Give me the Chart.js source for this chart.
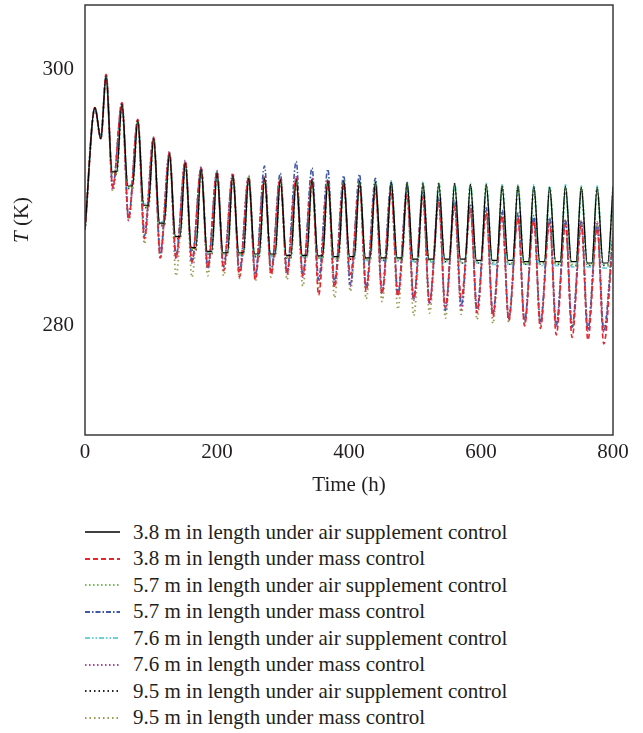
<!DOCTYPE html>
<html lang="en">
<head>
<meta charset="UTF-8">
<title>T vs time</title>
<script src="https://cdn.jsdelivr.net/npm/chart.js@4.4.1/dist/chart.umd.min.js"></script>
<style>
  body { margin: 0; background: #fff; }
  #wrap { position: relative; width: 643px; height: 733px; font-family: "Liberation Serif", serif; }
  #myChart { position: absolute; left: 0; top: 0; }
  #legend { position: absolute; left: 85px; top: 519px; }
  .row { height: 26.5px; display: flex; align-items: center; font-size: 21px; color: #231f20; white-space: nowrap; }
  .row svg { width: 35px; height: 6px; margin-right: 13px; flex: none; }
</style>
</head>
<body>
<div id="wrap">
  <canvas id="myChart" width="643" height="500"></canvas>
  <div id="legend"></div>
</div>

<script>
// time axis: a shared start, then one peak per day
const xTicks = [0, 200, 400, 600, 800];
const yTicks = [280, 300];
const startHours = [0, 15, 24];
const startTemps = [287.5, 297.0, 294.6];
const firstPeakHour = 32;
const dayHours = 24;
const airFallHours = 9;   // peak -> start of night plateau
const airRiseHours = 16;  // end of night plateau
const massFallHours = 10; // peak -> night minimum

// 3.8 m, air supplement control
const peaks38air = [299.5, 297.3, 296.0, 294.6, 293.4, 292.7, 292.2, 291.9, 291.7, 291.5, 291.5, 291.4, 291.4, 291.4, 291.3, 291.3, 291.3, 291.2, 291.2, 291.2, 291.1, 291.1, 291.1, 291.0, 291.0, 290.9, 290.9, 290.9, 290.8, 290.9, 290.8, 290.8, 290.8];
const troughs38air = [292.0, 290.9, 289.4, 288.0, 286.95, 286.1, 285.8, 285.7, 285.7, 285.6, 285.6, 285.5, 285.5, 285.45, 285.4, 285.4, 285.3, 285.3, 285.3, 285.2, 285.2, 285.2, 285.2, 285.1, 285.1, 285.1, 285.0, 285.0, 285.0, 285.0, 284.9, 284.9];
// 3.8 m, mass control
const peaks38mass = [299.6, 297.4, 296.1, 294.7, 293.5, 292.8, 292.3, 292.0, 291.8, 291.6, 291.6, 291.5, 291.5, 291.4, 291.3, 291.1, 290.9, 290.7, 290.5, 290.2, 290.0, 289.6, 289.3, 289.0, 288.8, 288.6, 288.4, 288.2, 288.0, 287.9, 287.8, 287.6, 286.8];
const troughs38mass = [290.8, 288.3, 286.8, 285.3, 285.3, 285.0, 284.5, 284.3, 283.8, 283.6, 284.0, 284.0, 283.9, 282.4, 283.0, 284.0, 282.7, 282.5, 282.3, 282.1, 281.8, 281.4, 282.2, 281.0, 280.7, 280.4, 280.0, 279.8, 279.3, 279.1, 278.9, 278.6];
// 5.7 m, air supplement control
const peaks57air = [299.4, 297.2, 296.0, 294.5, 293.4, 292.7, 292.2, 291.9, 291.7, 291.6, 291.5, 291.5, 291.4, 291.3, 291.3, 291.3, 291.2, 291.2, 291.2, 291.1, 291.1, 291.1, 291.0, 291.0, 291.0, 290.9, 290.9, 290.8, 290.8, 290.8, 290.8, 290.7, 290.7];
const troughs57air = [291.9, 290.8, 289.3, 287.9, 286.9, 286.0, 285.7, 285.6, 285.6, 285.5, 285.5, 285.4, 285.4, 285.4, 285.3, 285.3, 285.2, 285.2, 285.2, 285.1, 285.1, 285.1, 285.0, 285.0, 285.0, 284.9, 284.9, 284.9, 284.9, 284.8, 284.8, 284.8];
// 5.7 m, mass control
const peaks57mass = [299.5, 297.3, 296.0, 294.6, 293.4, 292.8, 292.3, 292.0, 291.8, 291.6, 292.45, 291.9, 292.8, 292.3, 292.2, 291.7, 291.8, 291.5, 291.2, 290.8, 290.4, 290.0, 289.8, 289.5, 289.2, 289.0, 288.8, 288.6, 288.4, 288.2, 288.1, 287.9, 287.0];
const troughs57mass = [290.9, 288.5, 287.0, 285.6, 285.5, 285.0, 284.5, 284.6, 284.2, 284.0, 284.3, 284.2, 284.0, 283.6, 283.4, 283.2, 282.9, 282.6, 282.4, 282.1, 281.8, 281.2, 281.6, 281.4, 281.0, 280.6, 280.4, 280.3, 280.1, 279.9, 279.7, 279.6];
// 7.6 m, air supplement control
const peaks76air = [299.6, 297.4, 296.1, 294.7, 293.5, 292.8, 292.3, 292.0, 291.8, 291.6, 291.6, 291.5, 291.5, 291.4, 291.4, 291.4, 291.3, 291.3, 291.3, 291.2, 291.2, 291.2, 291.2, 291.1, 291.1, 291.0, 291.0, 291.0, 290.9, 291.0, 290.9, 290.9, 290.9];
const troughs76air = [292.1, 291.0, 289.5, 288.1, 287.0, 286.1, 285.7, 285.6, 285.5, 285.5, 285.4, 285.4, 285.3, 285.3, 285.2, 285.2, 285.1, 285.1, 285.1, 285.0, 285.0, 285.0, 284.9, 284.9, 284.8, 284.8, 284.8, 284.7, 284.7, 284.6, 284.6, 284.5];
// 7.6 m, mass control
const peaks76mass = [299.6, 297.4, 296.1, 294.7, 293.6, 292.9, 292.4, 292.1, 291.9, 291.7, 291.7, 291.6, 291.6, 291.5, 291.4, 291.2, 291.0, 290.8, 290.6, 290.3, 290.0, 289.6, 289.3, 289.1, 288.9, 288.7, 288.5, 288.4, 288.3, 288.2, 288.2, 288.1, 287.2];
const troughs76mass = [290.6, 288.2, 287.5, 285.8, 285.2, 284.9, 284.7, 284.8, 284.3, 284.0, 284.2, 284.1, 283.8, 283.5, 283.3, 283.1, 283.0, 282.7, 282.5, 282.0, 281.7, 281.5, 281.3, 281.1, 280.9, 280.6, 280.4, 280.2, 280.0, 279.8, 279.6, 279.5];
// 9.5 m, air supplement control
const peaks95air = [299.5, 297.3, 296.0, 294.6, 293.4, 292.7, 292.2, 291.9, 291.6, 291.5, 291.4, 291.4, 291.3, 291.3, 291.3, 291.2, 291.2, 291.2, 291.1, 291.1, 291.1, 291.0, 291.0, 291.0, 290.9, 290.9, 290.9, 290.8, 290.8, 290.8, 290.7, 290.7, 290.7];
const troughs95air = [291.8, 290.7, 289.2, 287.8, 286.8, 285.9, 285.6, 285.5, 285.5, 285.4, 285.4, 285.3, 285.3, 285.3, 285.2, 285.2, 285.1, 285.1, 285.1, 285.0, 285.0, 285.0, 284.9, 284.9, 284.9, 284.8, 284.8, 284.8, 284.8, 284.7, 284.7, 284.7];
// 9.5 m, mass control
const peaks95mass = [299.4, 297.2, 295.9, 294.5, 293.3, 292.6, 292.1, 291.8, 291.6, 291.4, 291.4, 291.3, 291.3, 291.2, 291.1, 291.0, 290.8, 290.6, 290.4, 290.2, 290.0, 289.7, 289.5, 289.2, 289.0, 288.8, 288.6, 288.5, 288.4, 288.3, 288.2, 288.1, 287.4];
const troughs95mass = [290.5, 288.2, 286.4, 285.2, 283.9, 283.8, 283.9, 283.9, 283.7, 283.5, 283.8, 283.6, 283.1, 283.0, 282.2, 282.7, 282.1, 281.9, 281.3, 280.8, 281.0, 280.6, 280.9, 280.5, 280.2, 280.3, 280.1, 280.0, 279.9, 279.9, 279.8, 279.7];

// air control: flat night plateau, mass control: single night minimum
function buildPoints(peaks, troughs, isAir) {
  const pts = startHours.map((h, i) => ({ x: h, y: startTemps[i] }));
  peaks.forEach((p, k) => {
    const t = firstPeakHour + k * dayHours;
    pts.push({ x: t, y: p });
    if (k < troughs.length) {
      if (isAir) {
        pts.push({ x: t + airFallHours, y: troughs[k] });
        pts.push({ x: t + airRiseHours, y: troughs[k] });
      } else {
        pts.push({ x: t + massFallHours, y: troughs[k] });
      }
    }
  });
  return pts;
}

const series = [
  { label: '3.8 m in length under air supplement control', peaks: peaks38air, troughs: troughs38air, air: true,  color: '#000000', dash: [],               width: 1.2 },
  { label: '3.8 m in length under mass control',           peaks: peaks38mass, troughs: troughs38mass, air: false, color: '#e8262d', dash: [5, 3],           width: 1.6 },
  { label: '5.7 m in length under air supplement control', peaks: peaks57air, troughs: troughs57air, air: true,  color: '#6cbf3f', dash: [1.5, 2.5],       width: 1.8 },
  { label: '5.7 m in length under mass control',           peaks: peaks57mass, troughs: troughs57mass, air: false, color: '#4259a8', dash: [5, 2, 1.5, 2],   width: 1.6 },
  { label: '7.6 m in length under air supplement control', peaks: peaks76air, troughs: troughs76air, air: true,  color: '#6fd0d6', dash: [5, 2, 1.5, 2, 1.5, 2], width: 1.8 },
  { label: '7.6 m in length under mass control',           peaks: peaks76mass, troughs: troughs76mass, air: false, color: '#b8409a', dash: [1.5, 2.5],       width: 1.8 },
  { label: '9.5 m in length under air supplement control', peaks: peaks95air, troughs: troughs95air, air: true,  color: '#222222', dash: [1.5, 3],         width: 1.6 },
  { label: '9.5 m in length under mass control',           peaks: peaks95mass, troughs: troughs95mass, air: false, color: '#9a9a55', dash: [1.5, 3],         width: 1.8 }
];

const textColor = '#231f20';
const font = { family: '"Liberation Serif", serif', size: 21 };

// frame round the plot + y title with italic T
const framePlugin = {
  id: 'frame',
  afterDraw(chart) {
    const { ctx, chartArea: a } = chart;
    ctx.save();
    ctx.strokeStyle = '#3a3a3a';
    ctx.lineWidth = 1.5;
    ctx.strokeRect(a.left, a.top, a.right - a.left, a.bottom - a.top);

    ctx.translate(22, 220);
    ctx.rotate(-Math.PI / 2);
    ctx.fillStyle = textColor;
    ctx.textBaseline = 'middle';
    const italic = 'italic 21px "Liberation Serif", serif';
    const normal = '21px "Liberation Serif", serif';
    ctx.font = italic;
    const w1 = ctx.measureText('T').width;
    ctx.font = normal;
    const w2 = ctx.measureText(' (K)').width;
    const x0 = -(w1 + w2) / 2;
    ctx.font = italic;
    ctx.fillText('T', x0, 0);
    ctx.font = normal;
    ctx.fillText(' (K)', x0 + w1, 0);
    ctx.restore();
  }
};

const ctx = document.getElementById('myChart').getContext('2d');
const myChart = new Chart(ctx, {
  type: 'line',
  data: {
    datasets: series.map(s => ({
      label: s.label,
      data: buildPoints(s.peaks, s.troughs, s.air),
      borderColor: s.color,
      borderDash: s.dash,
      borderWidth: s.width,
      pointRadius: 0,
      fill: false,
      cubicInterpolationMode: 'monotone'
    }))
  },
  options: {
    responsive: false,
    animation: false,
    layout: { padding: { top: 5, right: 30, left: 0, bottom: 0 } },
    plugins: { legend: { display: false }, tooltip: { enabled: false } },
    scales: {
      x: {
        type: 'linear', min: 0, max: 800,
        afterBuildTicks: s => { s.ticks = xTicks.map(v => ({ value: v })); },
        afterFit: s => { s.height = 65; s.paddingLeft = 0; s.paddingRight = 0; },
        ticks: { padding: 5, font: font, color: textColor, maxRotation: 0 },
        grid: { display: false, drawTicks: false },
        border: { display: false },
        title: { display: true, text: 'Time (h)', font: font, color: textColor, padding: { top: 0, bottom: 2 } }
      },
      y: {
        min: 271.5, max: 305,
        afterBuildTicks: s => { s.ticks = yTicks.map(v => ({ value: v })); },
        afterFit: s => { s.width = 85; s.paddingTop = 0; s.paddingBottom = 0; },
        ticks: { padding: 11, font: font, color: textColor },
        grid: { display: false, drawTicks: false },
        border: { display: false }
      }
    }
  },
  plugins: [framePlugin]
});

// legend as html rows
const legend = document.getElementById('legend');
series.forEach(s => {
  const row = document.createElement('div');
  row.className = 'row';
  row.innerHTML = '<svg viewBox="0 0 35 6"><line x1="0" y1="3" x2="35" y2="3" stroke="' + s.color +
    '" stroke-width="' + (s.dash.length ? 2 : 1.3) + '" stroke-dasharray="' + (s.dash.length ? s.dash.join(' ') : 'none') + '"/></svg>';
  const span = document.createElement('span');
  span.textContent = s.label;
  row.appendChild(span);
  legend.appendChild(row);
});
</script>
</body>
</html>
